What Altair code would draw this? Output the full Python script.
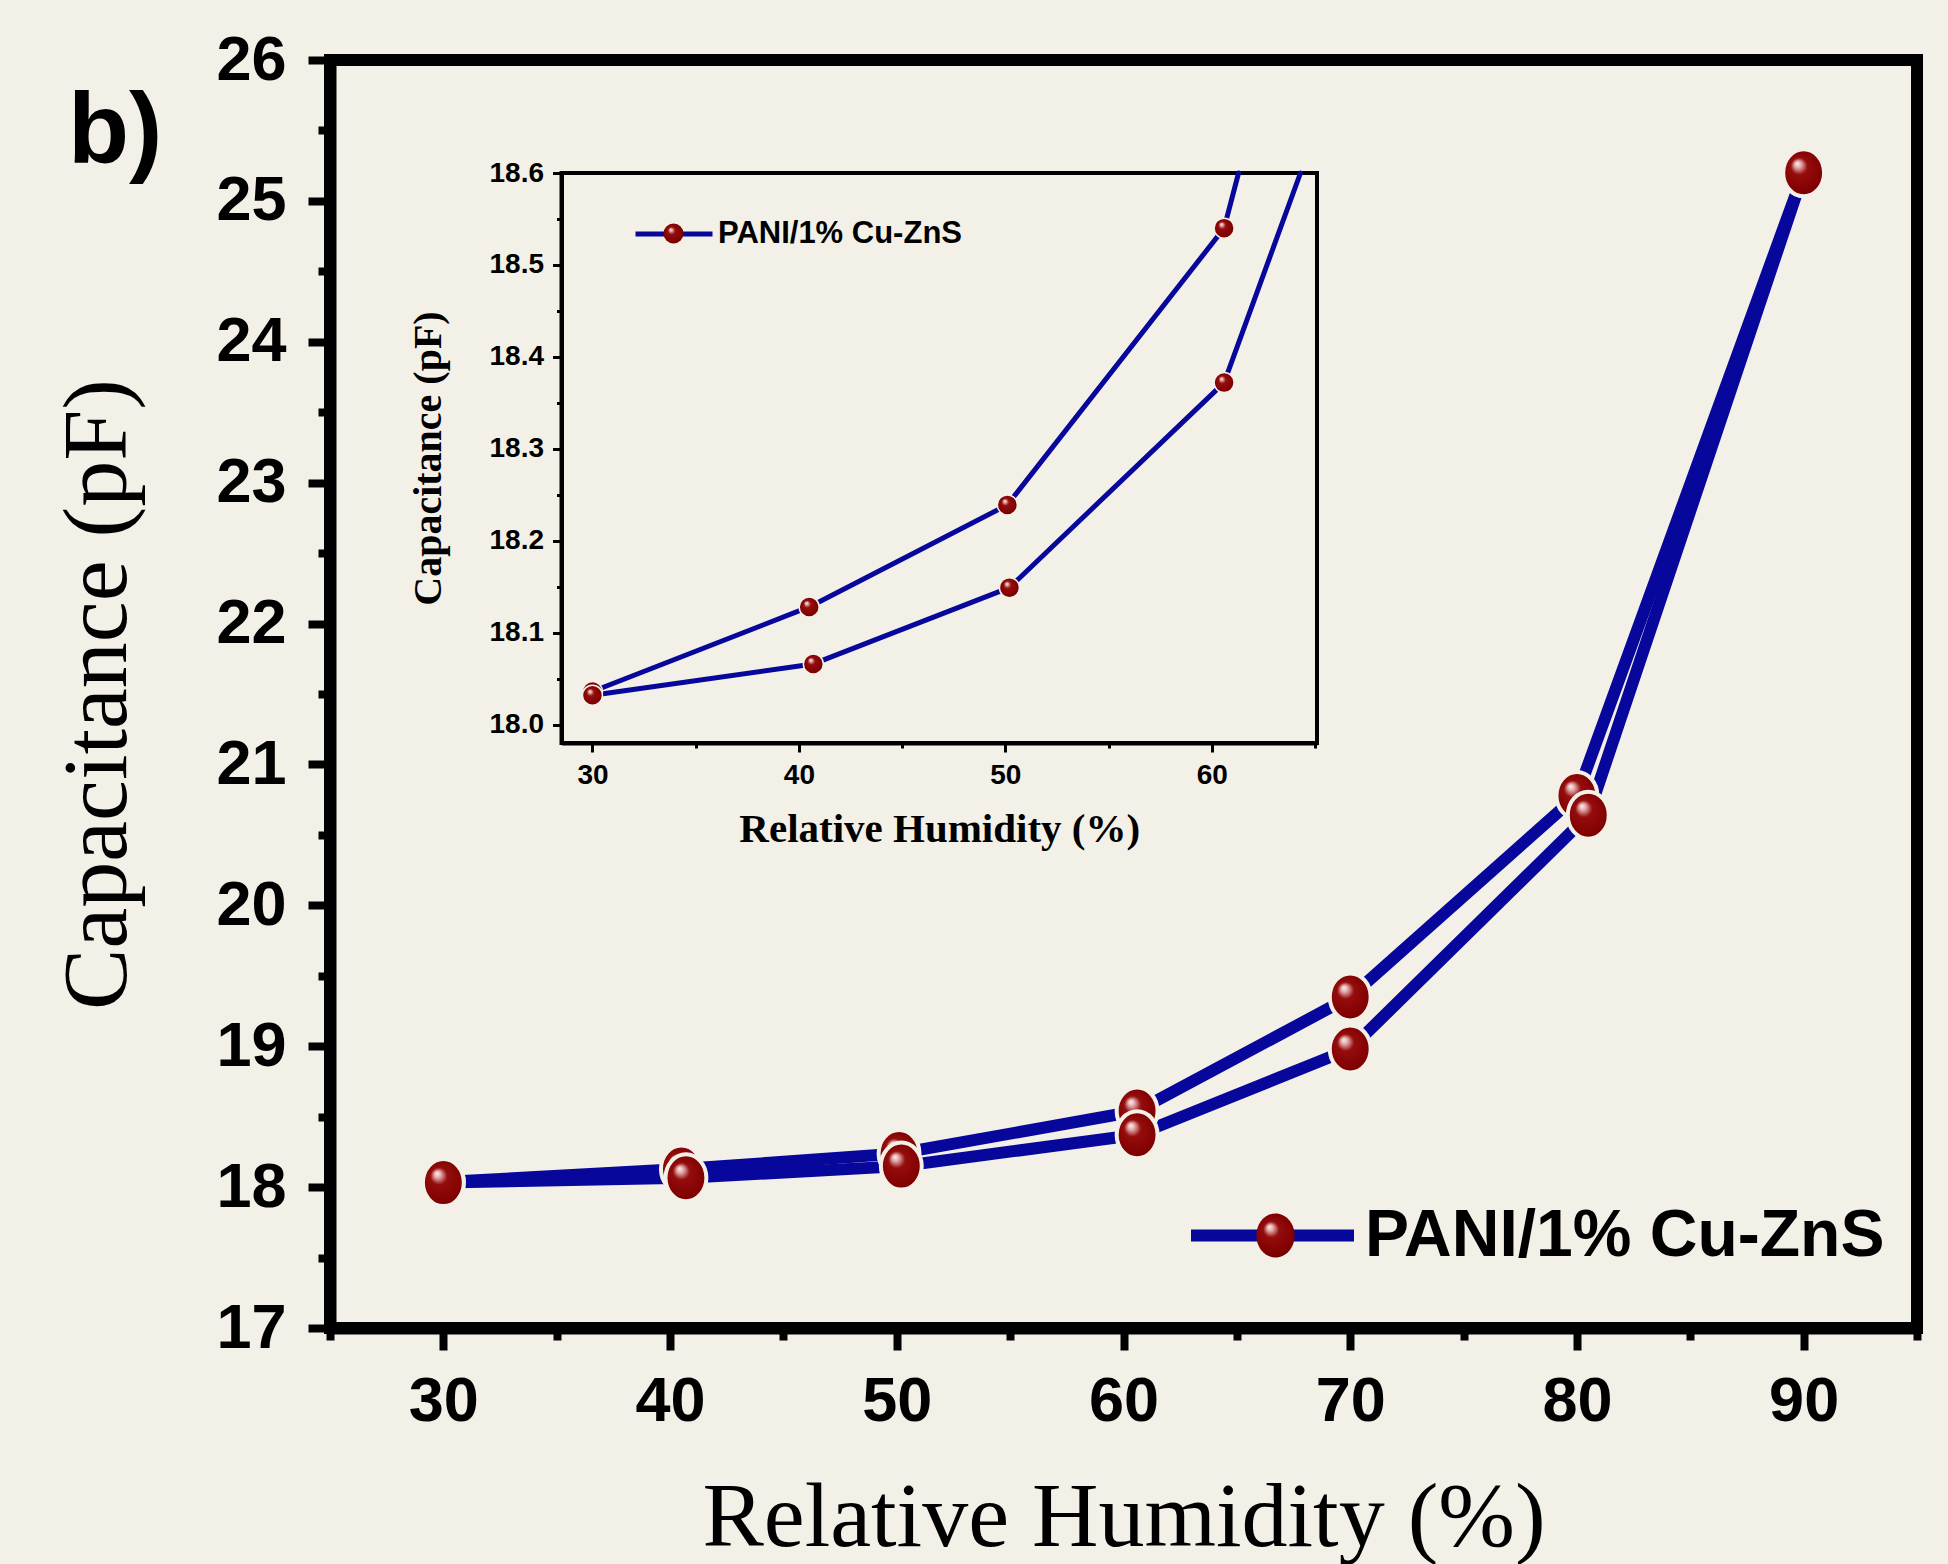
import altair as alt
import pandas as pd

SERIES = "PANI/1% Cu-ZnS"

# Upper (desorption) and lower (adsorption) branches
RH_UPPER = [30, 40.5, 50.1, 60.6, 70, 80, 90]
CAP_UPPER = [18.036, 18.128, 18.239, 18.54, 19.35, 20.78, 25.2]
RH_LOWER = [30, 40.7, 50.2, 60.6, 70, 80.5, 90]
CAP_LOWER = [18.032, 18.066, 18.149, 18.372, 18.98, 20.64, 25.2]

# Where each branch leaves the top edge of the inset
INSET_EDGE_BRANCH = ["upper", "lower"]
INSET_EDGE_RH = [61.3, 64.3]
INSET_EDGE_CAP = [18.6, 18.6]

X_DOMAIN = [25, 95]
Y_DOMAIN = [17, 26]
X_MAJOR = [30, 40, 50, 60, 70, 80, 90]
X_MINOR = [25, 35, 45, 55, 65, 75, 85, 95]
Y_MAJOR = [17, 18, 19, 20, 21, 22, 23, 24, 25, 26]
Y_MINOR = [17.5, 18.5, 19.5, 20.5, 21.5, 22.5, 23.5, 24.5, 25.5]

INSET_X_DOMAIN = [28.5, 65.1]
INSET_Y_DOMAIN = [17.98, 18.6]
INSET_X_MAJOR = [30, 40, 50, 60]
INSET_X_MINOR = [35, 45, 55, 65]
INSET_Y_MAJOR = [18.0, 18.1, 18.2, 18.3, 18.4, 18.5, 18.6]
INSET_Y_MINOR = [18.05, 18.15, 18.25, 18.35, 18.45, 18.55]

BG = "#F3F0E8"
BLUE = "#07079C"
RED = "#8B0000"
SANS = "Liberation Sans, Arial, sans-serif"
SERIF = "Liberation Serif, Times New Roman, serif"
# slightly tall sphere outline, as in the figure
OVAL = "M0,-1A0.87,1 0 1,1 0,1A0.87,1 0 1,1 0,-1Z"

SPHERE = {
    "gradient": "radial",
    "x1": 0.36, "y1": 0.3, "r1": 0.0,
    "x2": 0.5, "y2": 0.5, "r2": 0.56,
    "stops": [
        {"offset": 0.0, "color": "#fff2f2"},
        {"offset": 0.13, "color": "#e3a9a9"},
        {"offset": 0.32, "color": "#950d0d"},
        {"offset": 0.8, "color": "#800000"},
        {"offset": 1.0, "color": "#650000"},
    ],
}

rows = []
for rh, cap in zip(RH_UPPER, CAP_UPPER):
    rows.append({"branch": "upper", "rh": rh, "cap": cap})
for rh, cap in zip(RH_LOWER, CAP_LOWER):
    rows.append({"branch": "lower", "rh": rh, "cap": cap})
main_df = pd.DataFrame(rows)
main_df["line_key"] = SERIES
main_df["marker_key"] = SERIES

inset_pts = main_df[(main_df.rh <= INSET_X_DOMAIN[1]) & (main_df.cap <= INSET_Y_DOMAIN[1])]
edge_df = pd.DataFrame({"branch": INSET_EDGE_BRANCH, "rh": INSET_EDGE_RH,
                        "cap": INSET_EDGE_CAP})
edge_df["line_key"] = SERIES
edge_df["marker_key"] = SERIES
inset_line_df = pd.concat([inset_pts, edge_df], ignore_index=True)

W, H = 1587, 1268


def major_axis(orient, values, label_size, pad, dom_w, tick_w, tick_len, title,
               title_size, title_weight, **kw):
    return alt.Axis(
        orient=orient, values=values, title=title,
        grid=False, domainColor="black", domainWidth=dom_w,
        tickColor="black", tickWidth=tick_w, tickSize=tick_len,
        labelFont=SANS, labelFontWeight="bold", labelFontSize=label_size,
        labelColor="black", labelPadding=pad, labelFlush=False, labelOverlap=False,
        titleFont=SERIF, titleFontWeight=title_weight, titleFontSize=title_size,
        titleColor="black", titleBaseline="alphabetic", **kw)


def minor_axis(orient, values, tick_w, tick_len, **kw):
    return alt.Axis(
        orient=orient, values=values, title=None, labels=False, grid=False,
        domain=False, tickColor="black", tickWidth=tick_w, tickSize=tick_len, **kw)


# ---------------- main plot ----------------
mx_scale = alt.Scale(domain=X_DOMAIN, nice=False, zero=False)
my_scale = alt.Scale(domain=Y_DOMAIN, nice=False, zero=False)

main_line = alt.Chart(main_df).mark_line(
    strokeWidth=12, strokeCap="round", strokeJoin="round"
).encode(
    x=alt.X("rh:Q", scale=mx_scale,
            axis=major_axis("bottom", X_MAJOR, 63, 20, 12, 8, 22,
                            "Relative Humidity (%)", 92, "normal", titleY=217)),
    y=alt.Y("cap:Q", scale=my_scale,
            axis=major_axis("left", Y_MAJOR, 63, 22, 12, 8, 22,
                            "Capacitance (pF)", 92, "normal",
                            titleAngle=270, titleX=-205)),
    detail="branch:N",
    stroke=alt.Stroke("line_key:N", scale=alt.Scale(range=[BLUE]),
                      legend=alt.Legend(
                          title=None, orient="none", legendX=855, legendY=1088,
                          symbolType="stroke", symbolSize=26569, symbolStrokeWidth=12,
                          labelFont=SANS, labelFontWeight="bold", labelFontSize=66,
                          labelColor="black", labelOffset=5, labelLimit=0,
                          padding=0, offset=0)),
)

main_pts = alt.Chart(main_df).mark_point(
    filled=True, fill=SPHERE, stroke=BG, strokeWidth=4, size=2209, opacity=1
).encode(
    x=alt.X("rh:Q", scale=mx_scale, axis=minor_axis("bottom", X_MINOR, 8, 12)),
    y=alt.Y("cap:Q", scale=my_scale, axis=minor_axis("left", Y_MINOR, 8, 12)),
    shape=alt.Shape("marker_key:N", scale=alt.Scale(range=[OVAL]),
                    legend=alt.Legend(
                        title=None, orient="none", legendX=920, legendY=1150,
                        symbolSize=1936, symbolFillColor=RED, symbolStrokeColor=BG,
                        symbolStrokeWidth=7, labelExpr="''", labelFontSize=1,
                        labelOffset=0, padding=0, offset=0)),
)

main_layer = alt.layer(main_line, main_pts).resolve_axis(x="independent", y="independent")

# ---------------- inset ----------------
ix_scale = alt.Scale(domain=INSET_X_DOMAIN, range=[231.5, 987], nice=False, zero=False)
iy_scale = alt.Scale(domain=INSET_Y_DOMAIN, range=[683, 113], nice=False, zero=False)
IX_OFF = 683 - H
IY_OFF = -231.5

inset_frame = alt.Chart(pd.DataFrame({"k": [0]})).mark_rect(
    filled=False, color="black", strokeWidth=4
).encode(
    x=alt.XDatum(INSET_X_DOMAIN[0], scale=ix_scale, axis=None),
    x2=alt.X2Datum(INSET_X_DOMAIN[1]),
    y=alt.YDatum(INSET_Y_DOMAIN[0], scale=iy_scale, axis=None),
    y2=alt.Y2Datum(INSET_Y_DOMAIN[1]),
)

inset_line = alt.Chart(inset_line_df).mark_line(
    strokeWidth=5, strokeCap="round", strokeJoin="round"
).encode(
    x=alt.X("rh:Q", scale=ix_scale,
            axis=major_axis("bottom", INSET_X_MAJOR, 28, 9, 4, 3, 9,
                            "Relative Humidity (%)", 41, "bold",
                            offset=IX_OFF, titleY=98)),
    y=alt.Y("cap:Q", scale=iy_scale,
            axis=major_axis("left", INSET_Y_MAJOR, 28, 9, 4, 3, 9,
                            "Capacitance (pF)", 40, "bold", format=".1f",
                            offset=IY_OFF, titleAngle=270, titleX=-121)),
    detail="branch:N",
    stroke=alt.Stroke("line_key:N", scale=alt.Scale(range=[BLUE]),
                      legend=alt.Legend(
                          title=None, orient="none", legendX=303, legendY=133,
                          symbolType="stroke", symbolSize=5929, symbolStrokeWidth=5,
                          labelFont=SANS, labelFontWeight="bold", labelFontSize=31,
                          labelColor="black", labelOffset=3, labelLimit=0,
                          padding=0, offset=0)),
)

inset_pts_chart = alt.Chart(inset_pts).mark_point(
    filled=True, fill=SPHERE, stroke=BG, strokeWidth=1.5, size=400, opacity=1
).encode(
    x=alt.X("rh:Q", scale=ix_scale,
            axis=minor_axis("bottom", INSET_X_MINOR, 3, 5, offset=IX_OFF)),
    y=alt.Y("cap:Q", scale=iy_scale,
            axis=minor_axis("left", INSET_Y_MINOR, 3, 5, offset=IY_OFF)),
    shape=alt.Shape("marker_key:N", scale=alt.Scale(range=["circle"]),
                    legend=alt.Legend(
                        title=None, orient="none", legendX=332, legendY=162,
                        symbolSize=400, symbolFillColor=RED, symbolStrokeColor=BG,
                        symbolStrokeWidth=2.5, labelExpr="''", labelFontSize=1,
                        labelOffset=0, padding=0, offset=0)),
)

inset_layer = alt.layer(inset_frame, inset_line, inset_pts_chart).resolve_axis(
    x="independent", y="independent")

chart = alt.layer(main_layer, inset_layer).resolve_scale(
    x="independent", y="independent", stroke="independent", shape="independent"
).properties(
    width=W, height=H,
    padding={"left": 330, "top": 60, "right": 1948 - 330 - W, "bottom": 1564 - 60 - H},
    autosize=alt.AutoSizeParams(type="none"),
    background=BG,
    title=alt.TitleParams(
        text="b)", anchor="start", orient="top", frame="group", offset=0,
        dx=-262, dy=234, baseline="alphabetic",
        font=SANS, fontSize=100, fontWeight="bold", color="black",
    ),
).configure_view(stroke="black", strokeWidth=12)

chart.save("out.html", embed_options={"renderer": "svg", "actions": False})
